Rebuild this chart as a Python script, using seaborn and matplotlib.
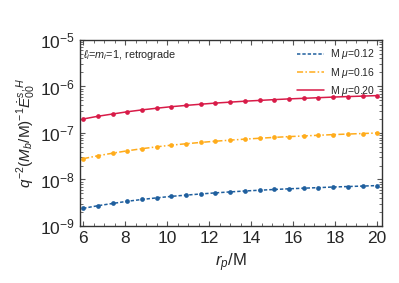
import numpy as np
import pandas as pd
import seaborn as sns
import matplotlib
matplotlib.use("Agg")
import matplotlib.pyplot as plt
from matplotlib.ticker import MultipleLocator, LogLocator, NullFormatter

# orbital radius r_p/M
r_p = [6.0, 6.7, 7.4, 8.1, 8.8, 9.5, 10.2, 10.9, 11.6, 12.3, 13.0,
       13.7, 14.4, 15.1, 15.8, 16.5, 17.2, 17.9, 18.6, 19.3, 20.0]

# flux for each M mu
flux_012 = [2.40e-9, 2.73e-9, 3.05e-9, 3.40e-9, 3.72e-9, 4.03e-9, 4.34e-9,
            4.61e-9, 4.89e-9, 5.16e-9, 5.41e-9, 5.66e-9, 5.88e-9, 6.10e-9,
            6.31e-9, 6.50e-9, 6.69e-9, 6.89e-9, 7.06e-9, 7.22e-9, 7.40e-9]
flux_016 = [2.80e-8, 3.24e-8, 3.68e-8, 4.14e-8, 4.60e-8, 5.04e-8, 5.48e-8,
            5.87e-8, 6.27e-8, 6.66e-8, 7.02e-8, 7.38e-8, 7.71e-8, 8.05e-8,
            8.36e-8, 8.64e-8, 8.93e-8, 9.23e-8, 9.49e-8, 9.74e-8, 1.00e-7]
flux_020 = [2.00e-7, 2.29e-7, 2.56e-7, 2.86e-7, 3.14e-7, 3.41e-7, 3.68e-7,
            3.92e-7, 4.16e-7, 4.40e-7, 4.61e-7, 4.83e-7, 5.02e-7, 5.22e-7,
            5.41e-7, 5.57e-7, 5.74e-7, 5.92e-7, 6.07e-7, 6.21e-7, 6.37e-7]

labels = [r"M $\mu$=0.12", r"M $\mu$=0.16", r"M $\mu$=0.20"]
colors = ["#1f5f9e", "#ffac1c", "#d81b48"]

sns.set_theme(style="ticks")
plt.rcParams['font.family'] = ['Liberation Sans', 'DejaVu Sans']
plt.rcParams['mathtext.fontset'] = 'custom'
plt.rcParams['mathtext.rm'] = 'Liberation Sans'
plt.rcParams['mathtext.it'] = 'Liberation Sans:italic'
plt.rcParams['mathtext.bf'] = 'Liberation Sans:bold'

df = pd.DataFrame({
    "r_p": r_p * 3,
    "flux": flux_012 + flux_016 + flux_020,
    "series": [labels[0]] * len(r_p) + [labels[1]] * len(r_p) + [labels[2]] * len(r_p),
})

fig = plt.figure(figsize=(3.99, 2.83), dpi=100)
ax = fig.add_axes([0.2005, 0.2014, 0.7565, 0.6573])

sns.lineplot(data=df, x="r_p", y="flux", hue="series", style="series",
             palette=dict(zip(labels, colors)),
             dashes={labels[0]: (2.2, 1.3), labels[1]: (4, 1.5, 1, 1.5), labels[2]: ""},
             markers={l: "o" for l in labels}, markersize=3.4, markeredgewidth=0,
             linewidth=1.1, ax=ax)

ax.set_yscale("log")
ax.set_ylim(1e-9, 1e-5)
ax.set_xlim(5.85, 20.22)
ax.xaxis.set_major_locator(MultipleLocator(2))
ax.xaxis.set_minor_locator(MultipleLocator(0.5))
ax.yaxis.set_major_locator(LogLocator(base=10, numticks=10))
ax.yaxis.set_minor_locator(LogLocator(base=10, subs=np.arange(2, 10), numticks=50))
ax.yaxis.set_minor_formatter(NullFormatter())
ax.tick_params(which="both", direction="in", top=True, right=True, labelsize=12.5,
               color="#555555")
ax.tick_params(which="major", length=3.5, width=0.8)
ax.tick_params(which="minor", length=2, width=0.6)
for s in ax.spines.values():
    s.set_color("#333333")
    s.set_linewidth(1.0)

ax.set_xlabel(r"$r_p$/M", fontsize=12)
ax.set_ylabel(r"$q^{-2}(M_b/\mathrm{M})^{-1}\dot{E}^{s,H}_{00}$", fontsize=11, labelpad=2)
ax.text(0.01, 0.955, r"$\ell_i$=$m_i$=1, retrograde", transform=ax.transAxes,
        fontsize=7.8, va="top", ha="left")

leg = ax.legend(loc="upper right", frameon=False, fontsize=7.5, handlelength=2.6,
                handletextpad=0.5, labelspacing=0.42, borderaxespad=0.3)
for h in leg.legend_handles:
    h.set_marker("")

fig.savefig("out.png", dpi=100)
